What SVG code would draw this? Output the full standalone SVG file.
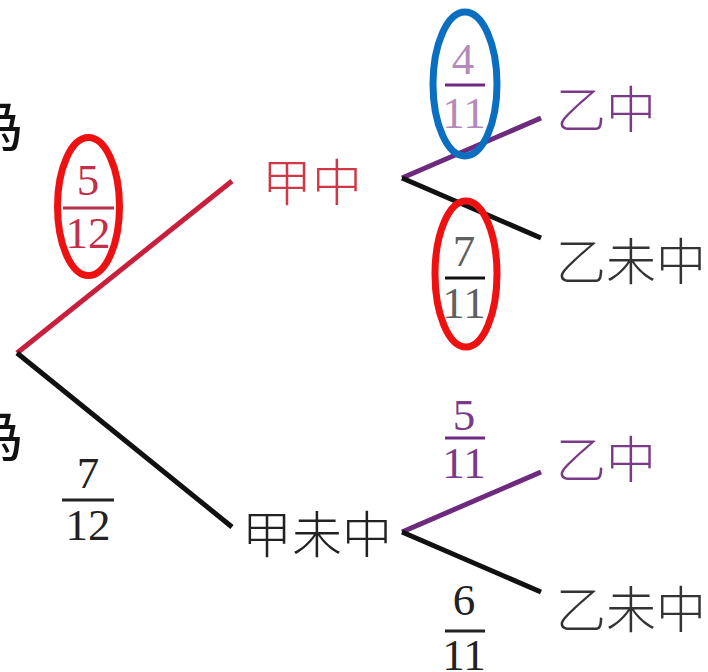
<svg xmlns="http://www.w3.org/2000/svg" width="708" height="672" viewBox="0 0 708 672">
<style>
.cjk{font-family:"Noto Sans CJK TC","Noto Sans CJK SC",sans-serif;font-size:50px;font-weight:300}
.edge{font-family:"Noto Sans CJK TC","Noto Sans CJK SC",sans-serif;font-size:62px;font-weight:400;fill:#111}
.num{font-family:"Liberation Serif",serif;font-size:45px;text-anchor:middle}
.br{stroke-width:5;stroke-linecap:butt;fill:none}
.ring{fill:none;stroke-width:7}
</style>
<rect width="708" height="672" fill="#fff"/>
<g id="left-cut">
<text class="edge" x="-38" y="146">為</text>
<text class="edge" x="-38" y="456">為</text>
</g>
<g id="connectors">
<line class="br" x1="17" y1="353" x2="232" y2="181" stroke="#c8203c"/>
<line class="br" x1="17" y1="353" x2="232" y2="527" stroke="#111"/>
<line class="br" x1="402" y1="178" x2="541" y2="118" stroke="#6e2a7e"/>
<line class="br" x1="402" y1="178" x2="541" y2="238" stroke="#111"/>
<line class="br" x1="402" y1="532" x2="541" y2="472" stroke="#6e2a7e"/>
<line class="br" x1="402" y1="532" x2="541" y2="592" stroke="#111"/>
</g>
<g id="node-jia-zhong"><text class="cjk" x="262" y="201" fill="#d03848">甲中</text></g>
<g id="node-jia-wei"><text class="cjk" x="242" y="553" fill="#222">甲未中</text></g>
<g id="node-yi-zhong-1"><text class="cjk" x="556" y="128" fill="#7a3a88">乙中</text></g>
<g id="node-yi-wei-1"><text class="cjk" x="556" y="280" fill="#333">乙未中</text></g>
<g id="node-yi-zhong-2"><text class="cjk" x="556" y="478" fill="#7a3a88">乙中</text></g>
<g id="node-yi-wei-2"><text class="cjk" x="556" y="628" fill="#333">乙未中</text></g>
<g id="frac-5-12">
<text class="num" x="88" y="195" fill="#c0304a">5</text>
<line x1="63" y1="208" x2="114" y2="208" stroke="#b8304a" stroke-width="3"/>
<text class="num" x="88" y="248" fill="#c0304a">12</text>
<ellipse class="ring" cx="88.5" cy="206.5" rx="31" ry="69" stroke="#ee1111"/>
</g>
<g id="frac-4-11">
<text class="num" x="463" y="74" fill="#b48ab8">4</text>
<line x1="445" y1="85" x2="485" y2="85" stroke="#6e2a7e" stroke-width="3"/>
<text class="num" x="464" y="128" fill="#b48ab8">11</text>
<ellipse class="ring" cx="465" cy="84" rx="32" ry="72" stroke="#0a6fc0"/>
</g>
<g id="frac-7-11">
<text class="num" x="464" y="266" fill="#606060">7</text>
<line x1="445" y1="278" x2="485" y2="278" stroke="#111" stroke-width="3"/>
<text class="num" x="464" y="318" fill="#606060">11</text>
<ellipse class="ring" cx="466" cy="274" rx="31" ry="73" stroke="#ee1111"/>
</g>
<g id="frac-5-11">
<text class="num" x="464" y="430" fill="#7a3a8a">5</text>
<line x1="445" y1="438" x2="485" y2="438" stroke="#6e2a7e" stroke-width="3"/>
<text class="num" x="464" y="478" fill="#7a3a8a">11</text>
</g>
<g id="frac-6-11">
<text class="num" x="464" y="615" fill="#222">6</text>
<line x1="445" y1="631" x2="485" y2="631" stroke="#222" stroke-width="3"/>
<text class="num" x="464" y="670" fill="#222">11</text>
</g>
<g id="frac-7-12">
<text class="num" x="88" y="488" fill="#222">7</text>
<line x1="62" y1="500" x2="114" y2="500" stroke="#222" stroke-width="3"/>
<text class="num" x="88" y="540" fill="#222">12</text>
</g>
</svg>
